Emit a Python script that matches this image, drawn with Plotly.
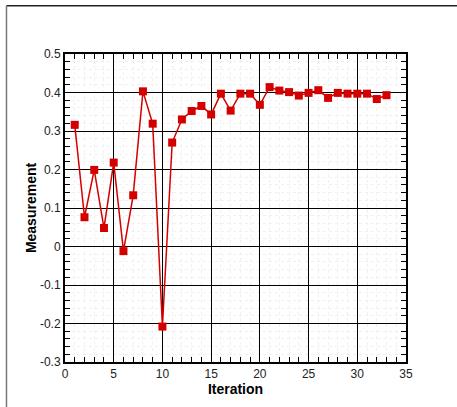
import plotly.graph_objects as go

iterations = list(range(1, 34))
measurement = [0.316, 0.076, 0.199, 0.048, 0.218, -0.012, 0.133, 0.403, 0.319, -0.208,
               0.270, 0.330, 0.352, 0.365, 0.343, 0.397, 0.353, 0.397, 0.397, 0.368,
               0.414, 0.405, 0.401, 0.392, 0.399, 0.406, 0.386, 0.399, 0.397, 0.397,
               0.397, 0.383, 0.393]
x_ticks = [0, 5, 10, 15, 20, 25, 30, 35]
y_ticks = [-0.3, -0.2, -0.1, 0, 0.1, 0.2, 0.3, 0.4, 0.5]
y_tick_labels = ["-0.3", "-0.2", "-0.1", "0", "0.1", "0.2", "0.3", "0.4", "0.5"]

fig = go.Figure()
fig.add_trace(go.Scatter(
    x=iterations, y=measurement, mode="lines+markers",
    line=dict(color="#d40000", width=1.5),
    marker=dict(symbol="square", size=8, color="#d40000"),
    showlegend=False,
))

font = "Liberation Sans, Arial, Helvetica, sans-serif"
axis_common = dict(
    showline=True, linecolor="black", linewidth=2, mirror="ticks",
    ticks="inside", ticklen=5, tickwidth=1, tickcolor="black",
    showgrid=True, gridcolor="black", gridwidth=1,
    zeroline=False,
    tickfont=dict(family=font, size=12, color="#222"),
)

fig.update_xaxes(
    range=[0, 35], tickmode="array", tickvals=x_ticks,
    minor=dict(dtick=1, ticks="inside", ticklen=5, tickcolor="black", showgrid=True,
               gridcolor="#f0f0f0", griddash="dot", gridwidth=1),
    title=dict(text="<b>Iteration</b>", font=dict(family=font, size=14, color="black"), standoff=4),
    **axis_common,
)
fig.update_yaxes(
    range=[-0.3, 0.5], tickmode="array", tickvals=y_ticks, ticktext=y_tick_labels,
    minor=dict(dtick=0.02, ticks="inside", ticklen=5, tickcolor="black", showgrid=True,
               gridcolor="#f0f0f0", griddash="dot", gridwidth=1),
    title=dict(text="<b>Measurement</b>", font=dict(family=font, size=14, color="black"), standoff=0),
    **axis_common,
)

# outer frame lines (top and left)
fig.add_shape(type="line", xref="paper", yref="paper",
              x0=-0.1716, x1=1.16, y0=1.1565, y1=1.1565,
              line=dict(color="#222", width=1.5))
fig.add_shape(type="line", xref="paper", yref="paper",
              x0=-0.1716, x1=-0.1716, y0=1.1565, y1=-0.15,
              line=dict(color="#777", width=1.5))

fig.update_layout(
    width=457, height=407,
    margin=dict(l=65, r=51, t=54, b=43),
    paper_bgcolor="white", plot_bgcolor="white",
    font=dict(family=font),
)

fig.write_html("out.html", config={"displayModeBar": False},
               post_script="document.body.style.margin='0';")
